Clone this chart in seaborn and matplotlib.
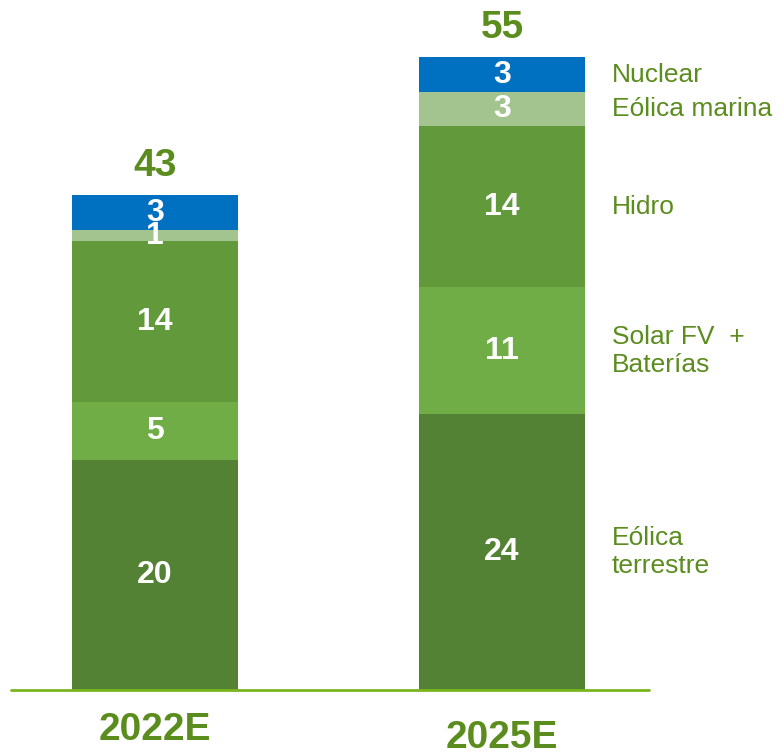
import numpy as np
import pandas as pd
import seaborn as sns
import matplotlib.pyplot as plt

years = ["2022E", "2025E"]
series = ["Eólica terrestre", "Solar FV + Baterías", "Hidro", "Eólica marina", "Nuclear"]
legend_text = ["Eólica\nterrestre", "Solar FV  +\nBaterías", "Hidro", "Eólica marina", "Nuclear"]
eolica_terrestre = [20, 24]
solar_baterias = [5, 11]
hidro = [14, 14]
eolica_marina = [1, 3]
nuclear = [3, 3]
totals = [43, 55]

colors = ["#548235", "#70AD47", "#62993B", "#A3C48F", "#0070C0"]
TXT = "#5B8C1E"

sns.set_theme(style="white")
plt.rcParams['font.family'] = ['Liberation Sans', 'DejaVu Sans']

values = [eolica_terrestre, solar_baterias, hidro, eolica_marina, nuclear]

fig = plt.figure(figsize=(7.82, 7.56), dpi=100)
ax = fig.add_axes([0, 0, 1, 1])

bottom = np.zeros(len(years))
for name, vals, col in zip(series, values, colors):
    df = pd.DataFrame({"year": years, "val": vals})
    sns.barplot(data=df, x="year", y="val", bottom=bottom, color=col,
                width=0.48, saturation=1, ax=ax, edgecolor="none")
    for i, v in enumerate(vals):
        ax.text(i, bottom[i] + v / 2, str(v), ha="center", va="center",
                color="white", fontsize=23, fontweight="bold")
    bottom = bottom + np.array(vals)

# segment labels on the right, aligned with 2025E segments
cum = 0
for lab, vals in zip(legend_text, values):
    ax.text(1.317, cum + vals[1] / 2, lab, ha="left", va="center",
            color=TXT, fontsize=19, linespacing=1.2)
    cum += vals[1]

for i, t in enumerate(totals):
    ax.text(i, t + 2.6, str(t), ha="center", va="center",
            color=TXT, fontsize=28, fontweight="bold")

ax.plot([-0.415, 1.424], [0, 0], color="#7AB51D", lw=2, zorder=5)

for i, (yr, yy) in enumerate(zip(years, [-3.5, -4.15])):
    ax.text(i, yy, yr, ha="center", va="center", color=TXT,
            fontsize=28, fontweight="bold")

ax.set_xlim(-0.447, 1.807)
ax.set_ylim(-5.74, 60.0)
ax.axis("off")

plt.savefig("out.png", dpi=100)
